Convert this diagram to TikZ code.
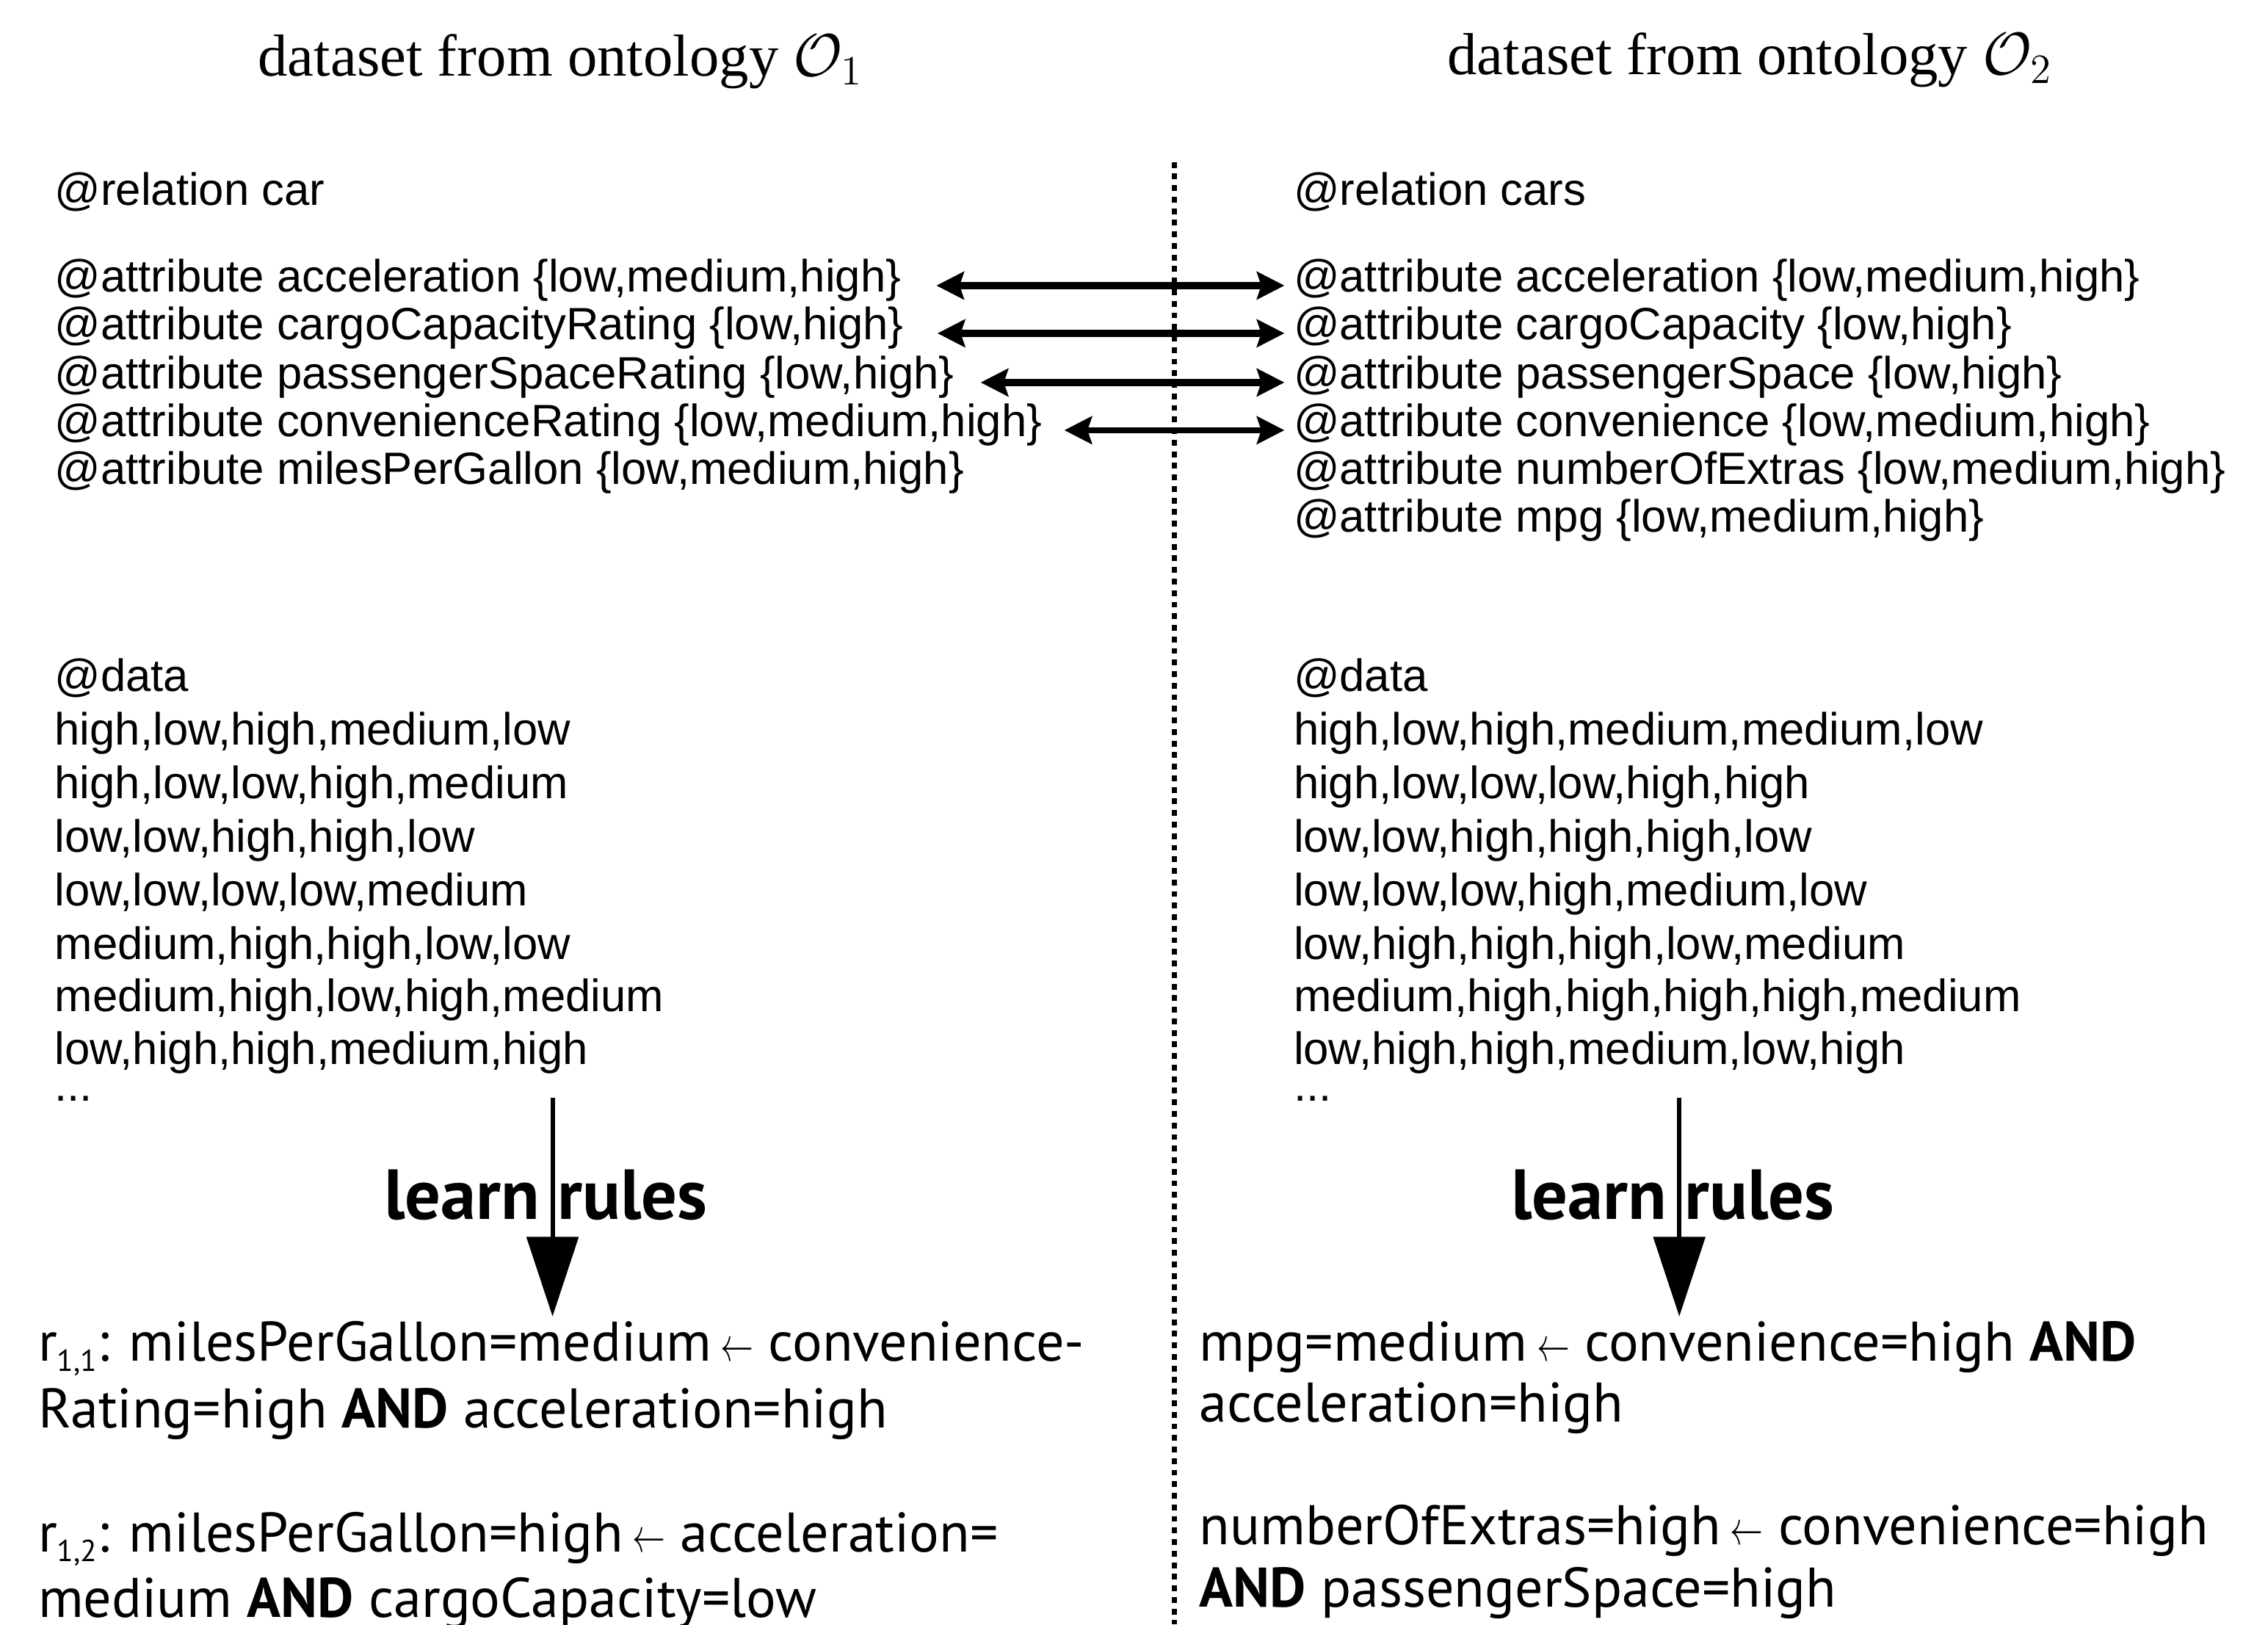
\documentclass[tikz,border=0pt]{standalone}
\usepackage{fontspec}
\setmainfont{Liberation Serif}
\newfontfamily\codefont{Liberation Sans}
\newfontfamily\rulefont{PT Sans}
\usetikzlibrary{arrows.meta}
\newcommand\rsub[1]{\raisebox{-3.5pt}{\fontsize{10.5}{11}\selectfont #1}}
\newcommand\larr{\,\scalebox{0.55}[0.8]{$\leftarrow$}\ }
\begin{document}
\begin{tikzpicture}[x=0.5pt,y=-0.5pt,
  code/.style={anchor=base west, inner sep=0pt, font={\codefont\fontsize{15.65}{18}\selectfont}},
  ruletxt/.style={anchor=base west, inner sep=0pt, font={\rulefont\fontsize{19.3}{22}\selectfont}},
  titletxt/.style={anchor=base, inner sep=0pt, font={\fontsize{20.5}{24}\selectfont}},
  learntxt/.style={anchor=base, inner sep=0pt, font={\rulefont\bfseries\fontsize{24.5}{28}\selectfont}},
  dblarrow/.style={line width=2.6pt, {Stealth[length=9.5pt,width=9.5pt,inset=1.5pt]}-{Stealth[length=9.5pt,width=9.5pt,inset=1.5pt]}},
  downarrow/.style={line width=1.5pt, -{Triangle[length=27.5pt,width=17.75pt]}},
  sepline/.style={line width=1.8pt, dash pattern=on 2pt off 2pt}]
\useasboundingbox (0,0) rectangle (1568,1123);
\clip (0,0) rectangle (1568,1123);

% titles
\node[titletxt] (t1) at (387.5,52.5) {dataset from ontology $\mathcal{O}_1$};
\node[titletxt] (t2) at (1209.8,51.5) {dataset from ontology $\mathcal{O}_2$};

% separator
\coordinate (septop) at (812,112);
\coordinate (sepbot) at (812,1123);
\draw[sepline] (septop) -- (sepbot);

% left header
\node[code] (lrel) at (37.5,142) {@relation car};
\node[code] (la1) at (37.5,202) {@attribute acceleration \{low,medium,high\}};
\node[code] (la2) at (37.5,235) {@attribute cargoCapacityRating \{low,high\}};
\node[code] (la3) at (37.5,269) {@attribute passengerSpaceRating \{low,high\}};
\node[code] (la4) at (37.5,302) {@attribute convenienceRating \{low,medium,high\}};
\node[code] (la5) at (37.5,335) {@attribute milesPerGallon \{low,medium,high\}};

% right header
\node[code] (rrel) at (894,142) {@relation cars};
\node[code] (ra1) at (894,202) {@attribute acceleration \{low,medium,high\}};
\node[code] (ra2) at (894,235) {@attribute cargoCapacity \{low,high\}};
\node[code] (ra3) at (894,269) {@attribute passengerSpace \{low,high\}};
\node[code] (ra4) at (894,302) {@attribute convenience \{low,medium,high\}};
\node[code] (ra5) at (894,335) {@attribute numberOfExtras \{low,medium,high\}};
\node[code] (ra6) at (894,368) {@attribute mpg \{low,medium,high\}};

% left data
\node[code] (ldat) at (37.5,478) {@data};
\node[code] (ld1) at (37.5,515) {high,low,high,medium,low};
\node[code] (ld2) at (37.5,552) {high,low,low,high,medium};
\node[code] (ld3) at (37.5,589) {low,low,high,high,low};
\node[code] (ld4) at (37.5,626) {low,low,low,low,medium};
\node[code] (ld5) at (37.5,663) {medium,high,high,low,low};
\node[code] (ld6) at (37.5,699) {medium,high,low,high,medium};
\node[code] (ld7) at (37.5,736) {low,high,high,medium,high};
\node[code] (ldots) at (37.5,761) {...};

% right data
\node[code] (rdat) at (894,478) {@data};
\node[code] (rd1) at (894,515) {high,low,high,medium,medium,low};
\node[code] (rd2) at (894,552) {high,low,low,low,high,high};
\node[code] (rd3) at (894,589) {low,low,high,high,high,low};
\node[code] (rd4) at (894,626) {low,low,low,high,medium,low};
\node[code] (rd5) at (894,663) {low,high,high,high,low,medium};
\node[code] (rd6) at (894,699) {medium,high,high,high,high,medium};
\node[code] (rd7) at (894,736) {low,high,high,medium,low,high};
\node[code] (rdots) at (894,761) {...};

% correspondence arrows
\draw[dblarrow] ([xshift=12pt]la1.mid east) -- ([xshift=-3pt]ra1.mid west);
\draw[dblarrow] ([xshift=11.5pt]la2.mid east) -- ([xshift=-3pt]ra2.mid west);
\draw[dblarrow] ([xshift=9pt]la3.mid east) -- ([xshift=-3pt]ra3.mid west);
\draw[dblarrow, line width=2pt] ([xshift=7.5pt]la4.mid east) -- ([xshift=-3pt]ra4.mid west);

% learn rules
\coordinate (lfrom) at (382,759);
\coordinate (lto) at (382,910);
\coordinate (rfrom) at (1161,759);
\coordinate (rto) at (1161,910);
\node[learntxt] (llearn) at (377.4,842.7) {learn rules};
\node[learntxt] (rlearn) at (1156.5,842.7) {learn rules};
\draw[downarrow] (lfrom) -- (lto);
\draw[downarrow] (rfrom) -- (rto);

% rules left
\node[ruletxt] (lr1) at (26,940.7) {r\rsub{1,1}: milesPerGallon=medium\larr convenience-};
\node[ruletxt] (lr2) at (26,987) {Rating=high \textbf{AND} acceleration=high};
\node[ruletxt] (lr3) at (26,1072.6) {r\rsub{1,2}: milesPerGallon=high\larr acceleration=};
\node[ruletxt] (lr4) at (26,1118) {medium \textbf{AND} cargoCapacity=low};

% rules right
\node[ruletxt] (rr1) at (829,940.7) {mpg=medium\larr convenience=high \textbf{AND}};
\node[ruletxt] (rr2) at (829,983) {acceleration=high};
\node[ruletxt] (rr3) at (829,1067.6) {numberOfExtras=high\larr convenience=high};
\node[ruletxt] (rr4) at (829,1110.7) {\textbf{AND} passengerSpace=high};
\end{tikzpicture}
\end{document}
